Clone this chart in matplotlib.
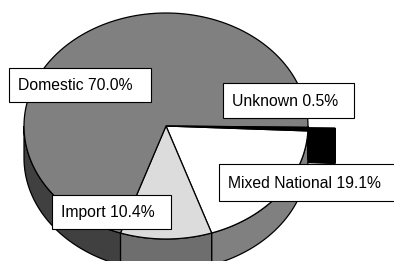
import numpy as np
import matplotlib.pyplot as plt
from matplotlib.patches import Polygon, Rectangle

plt.rcParams['font.family'] = ['Liberation Sans', 'DejaVu Sans']

# slices listed clockwise (on screen) starting near 3 o'clock
names = ['Unknown', 'Mixed National', 'Import', 'Domestic']
shares = [0.5, 19.1, 10.4, 70.0]
top_colors = ['#000000', '#ffffff', '#dcdcdc', '#808080']
side_colors = ['#000000', '#808080', '#6e6e6e', '#404040']

# label boxes (x0, y0, x1, y1) in pixel coords, text anchor
boxes = {
    'Domestic': ((9, 68, 151, 102), (18, 85)),
    'Unknown': ((223, 83, 354, 118), (232, 101)),
    'Mixed National': ((219, 164, 400, 201), (228, 183)),
    'Import': ((52, 195, 171, 229), (61, 212)),
}

cx, cy, rx, ry = 166, 126, 142, 113
depth = 32
start = 0.7
explode = 27

fig = plt.figure(figsize=(3.94, 2.61), dpi=100)
ax = fig.add_axes([0, 0, 1, 1])
ax.set_xlim(0, 394)
ax.set_ylim(261, 0)
ax.axis('off')


def arc(t1, t2, ox=0.0, oy=0.0):
    n = max(int(abs(t2 - t1) / 2) + 2, 3)
    ts = np.radians(np.linspace(t1, t2, n))
    return np.column_stack([cx + ox + rx * np.cos(ts), cy + oy + ry * np.sin(ts)])


def side(t1, t2, color, z, ox=0.0, oy=0.0):
    # outer face only where it faces the viewer (0..180 deg, and 360..540)
    for lo, hi in [(0, 180), (360, 540)]:
        a, b = max(t1, lo), min(t2, hi)
        if b <= a:
            continue
        up = arc(a, b, ox, oy)
        dn = arc(b, a, ox, oy + depth)
        ax.add_patch(Polygon(np.vstack([up, dn]), closed=True, fc=color,
                             ec='black', lw=0.9, zorder=z))


def top(t1, t2, color, z, ox=0.0, oy=0.0):
    pts = np.vstack([[cx + ox, cy + oy], arc(t1, t2, ox, oy)])
    ax.add_patch(Polygon(pts, closed=True, fc=color, ec='black', lw=0.9, zorder=z))


angles = []
t = start
for s in shares:
    angles.append((t, t + s * 3.6))
    t += s * 3.6

for i, name in enumerate(names):
    t1, t2 = angles[i]
    if name == 'Unknown':
        mid = np.radians((t1 + t2) / 2)
        ox, oy = explode * np.cos(mid), explode * np.sin(mid) * ry / rx
        # radial face at the lower edge of the pulled-out slice
        p = arc(t2, t2, ox, oy)[0]
        face = [[cx + ox, cy + oy], p, [p[0], p[1] + depth], [cx + ox, cy + oy + depth]]
        ax.add_patch(Polygon(face, closed=True, fc=side_colors[i], ec='black', lw=0.9, zorder=1))
        side(t1, t2, side_colors[i], 1, ox, oy)
        top(t1, t2, top_colors[i], 1, ox, oy)
        top(t1, t2, top_colors[i], 4)
    else:
        side(t1, t2, side_colors[i], 2)
        top(t1, t2, top_colors[i], 3)

for name, share in zip(names, shares):
    (x0, y0, x1, y1), (tx, ty) = boxes[name]
    ax.add_patch(Rectangle((x0, y0), x1 - x0, y1 - y0, fc='white', ec='black',
                           lw=0.8, zorder=10))
    ax.text(tx, ty, f'{name} {share:.1f}%', fontsize=11.3, ha='left', va='center',
            zorder=11)

fig.savefig('out.png', dpi=100)
